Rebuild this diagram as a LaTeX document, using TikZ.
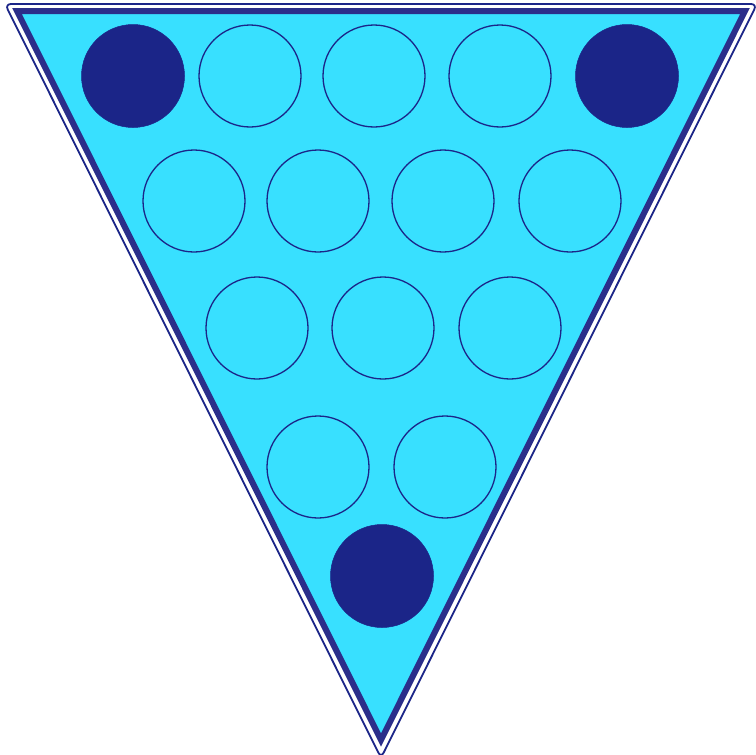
\documentclass[tikz,border=0pt]{standalone}
\definecolor{cyanfill}{HTML}{38E0FF}
\definecolor{navy}{HTML}{1B2588}
\definecolor{rim}{HTML}{2B2E8A}
\begin{document}
\begin{tikzpicture}[x=1pt,y=-1pt,
  hole/.style={circle,draw=navy,line width=1.3pt,fill=cyanfill,minimum size=102pt,inner sep=0pt},
  peg/.style={circle,fill=navy,draw=navy,line width=0.5pt,minimum size=103pt,inner sep=0pt}]
\useasboundingbox (0,0) rectangle (756,755);
\draw[navy,line width=1.8pt,rounded corners=6pt,fill=white] (5,4) -- (757,4) -- (381,758) -- cycle;
\draw[rim,line width=6pt,fill=cyanfill,line join=miter] (17,11) -- (745,11) -- (381,740) -- cycle;
\node[peg]  (a1) at (133,76) {};
\node[hole] (a2) at (250,76) {};
\node[hole] (a3) at (374,76) {};
\node[hole] (a4) at (500,76) {};
\node[peg]  (a5) at (627,76) {};
\node[hole] (b1) at (194,201) {};
\node[hole] (b2) at (318,201) {};
\node[hole] (b3) at (443,201) {};
\node[hole] (b4) at (570,201) {};
\node[hole] (c1) at (257,328) {};
\node[hole] (c2) at (383,328) {};
\node[hole] (c3) at (510,328) {};
\node[hole] (d1) at (318,467) {};
\node[hole] (d2) at (445,467) {};
\node[peg]  (e1) at (382,576) {};
\end{tikzpicture}
\end{document}
